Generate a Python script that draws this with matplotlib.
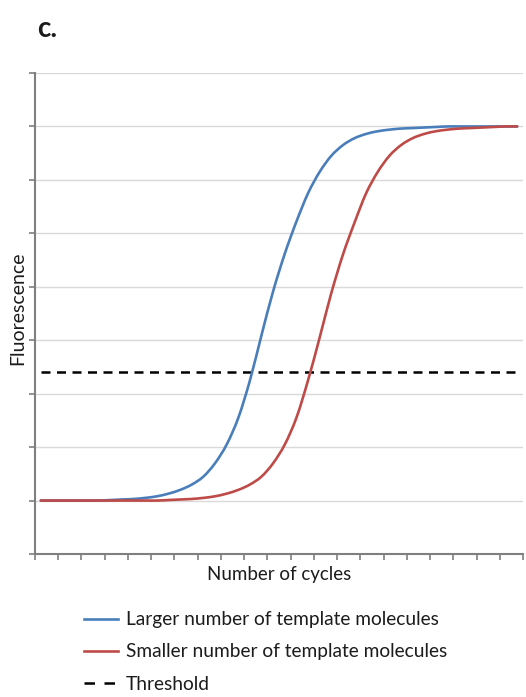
import matplotlib
matplotlib.use("Agg")
import matplotlib.pyplot as plt
from matplotlib.path import Path
from matplotlib.patches import PathPatch
from matplotlib.lines import Line2D
import numpy as np

# Amplification curves, fluorescence per cycle
cycles = np.arange(42) + 0.5
larger_template = [
    1.00, 1.00, 1.00, 1.00, 1.00, 1.00, 1.01, 1.02, 1.03, 1.05,
    1.08, 1.13, 1.20, 1.30, 1.45, 1.70, 2.05, 2.55, 3.25, 4.10,
    4.92, 5.62, 6.22, 6.75, 7.15, 7.45, 7.65, 7.78, 7.86, 7.91,
    7.94, 7.96, 7.97, 7.98, 7.99, 8.00, 8.00, 8.00, 8.00, 8.00,
    8.00, 8.00,
]
smaller_template = [
    1.00, 1.00, 1.00, 1.00, 1.00, 1.00, 1.00, 1.00, 1.00, 1.00,
    1.00, 1.01, 1.02, 1.03, 1.05, 1.08, 1.13, 1.20, 1.30, 1.45,
    1.70, 2.05, 2.55, 3.25, 4.05, 4.88, 5.60, 6.20, 6.75, 7.15,
    7.45, 7.65, 7.78, 7.86, 7.91, 7.94, 7.96, 7.97, 7.98, 7.99,
    8.00, 8.00,
]
threshold = 3.4

labels = [
    "Larger number of template molecules",
    "Smaller number of template molecules",
    "Threshold",
]

BLUE = "#4a7ebb"
RED = "#be4b48"
AXIS_GREY = "#7f7f7f"
GRID_GREY = "#d9d9d9"
TEXT = "#1c1c1c"

plt.rcParams["font.family"] = ["Lato", "DejaVu Sans"]


def smooth_path(x, y):
    """Smoothed line through every point (Catmull-Rom as cubic Beziers)."""
    pts = np.column_stack([x, y]).astype(float)
    padded = np.vstack([pts[0], pts, pts[-1]])
    verts = [pts[0]]
    codes = [Path.MOVETO]
    for i in range(1, len(padded) - 2):
        p0, p1, p2, p3 = padded[i - 1], padded[i], padded[i + 1], padded[i + 2]
        c1 = p1 + (p2 - p0) / 6.0
        c2 = p2 - (p3 - p1) / 6.0
        verts += [c1, c2, p2]
        codes += [Path.CURVE4] * 3
    return Path(verts, codes)


fig = plt.figure(figsize=(5.26, 6.97), dpi=100)
ax = fig.add_axes([35 / 526, 1 - 554 / 697, (523 - 35) / 526, (554 - 73) / 697])

ax.set_xlim(0, 42)
ax.set_ylim(0, 9)

ax.set_yticks(np.arange(0, 10))
ax.set_xticks(np.arange(0, 43, 2))
ax.set_yticklabels([])
ax.set_xticklabels([])
ax.tick_params(axis="both", direction="out", length=4, width=1.2, color=AXIS_GREY)

for y in range(1, 10):
    ax.axhline(y, color=GRID_GREY, lw=1.0, zorder=0)

for side in ("top", "right"):
    ax.spines[side].set_visible(False)
for side in ("left", "bottom"):
    ax.spines[side].set_color(AXIS_GREY)
    ax.spines[side].set_linewidth(1.5)

series = [(larger_template, BLUE), (smaller_template, RED)]
for values, color in series:
    ax.add_patch(PathPatch(smooth_path(cycles, values), facecolor="none",
                           edgecolor=color, lw=1.9, capstyle="round",
                           joinstyle="round", zorder=3))

ax.plot([cycles[0], cycles[-1]], [threshold, threshold], color="black",
        lw=1.8, dashes=(3.6, 2.6), zorder=2)

ax.set_xlabel("Number of cycles", fontsize=13.5, color=TEXT)
ax.xaxis.set_label_coords(0.501, -0.024)
ax.set_ylabel("Fluorescence", fontsize=14, color=TEXT)
ax.yaxis.set_label_coords(-0.018, 0.51)

fig.text(37 / 526, 1 - 37 / 697, "c.", fontsize=20, fontweight="bold",
         va="baseline", ha="left", color=TEXT)

handles = [
    Line2D([], [], color=BLUE, lw=1.9),
    Line2D([], [], color=RED, lw=1.9),
    Line2D([], [], color="black", lw=1.8, dashes=(4.2, 3.8)),
]
fig.legend(handles, labels, loc="upper left",
           bbox_to_anchor=(67 / 526, 1 - 594 / 697), frameon=False,
           fontsize=13.75, handlelength=1.75, handletextpad=0.43,
           labelspacing=0.8, labelcolor=TEXT)

fig.savefig("out.png", dpi=100)
